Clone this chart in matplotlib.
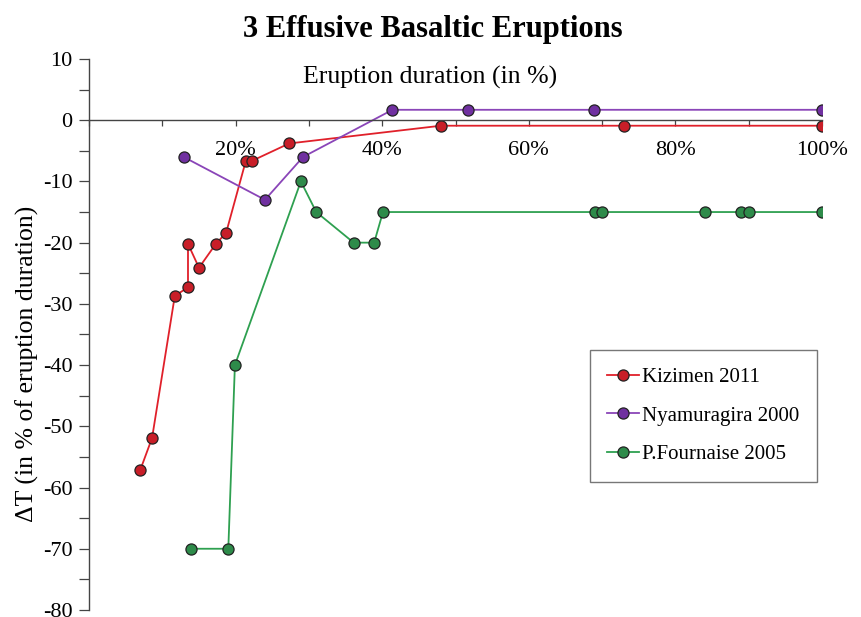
import matplotlib.pyplot as plt
from matplotlib.ticker import MultipleLocator, FuncFormatter

plt.rcParams['font.family'] = ['Liberation Serif', 'DejaVu Serif']
plt.rcParams['axes.unicode_minus'] = False  # plain hyphen like the original

# Kizimen 2011
kiz_x = [7.0, 8.6, 11.7, 13.5, 13.5, 15.0, 17.3, 18.7, 21.4, 22.3, 27.3, 48.0, 73.0, 100.0]
kiz_y = [-57.1, -51.9, -28.7, -27.3, -20.2, -24.1, -20.2, -18.4, -6.6, -6.6, -3.8, -0.9, -0.9, -0.9]

# Nyamuragira 2000
nya_x = [12.9, 24.0, 29.2, 41.4, 51.7, 68.9, 100.0]
nya_y = [-6.0, -13.0, -6.0, 1.7, 1.7, 1.7, 1.7]

# P.Fournaise 2005
pf_x = [13.9, 19.0, 19.9, 28.9, 31.0, 36.1, 38.9, 40.1, 69.0, 70.0, 84.0, 88.9, 90.0, 100.0]
pf_y = [-70, -70, -40, -10, -15, -20, -20, -15, -15, -15, -15, -15, -15, -15]

fig = plt.figure(figsize=(8.62, 6.17), dpi=100)
ax = fig.add_axes([0.1033, 0.0114, 0.8503, 0.893])

mk = dict(marker='o', markersize=8, markeredgecolor='#222222', markeredgewidth=0.9, linewidth=1.3)
ax.plot(kiz_x, kiz_y, color='#E0202A', markerfacecolor='#C81E28', label='Kizimen 2011', **mk)
ax.plot(nya_x, nya_y, color='#8A45B8', markerfacecolor='#7030A0', label='Nyamuragira 2000', **mk)
ax.plot(pf_x, pf_y, color='#2EA050', markerfacecolor='#2E8B4A', label='P.Fournaise 2005', **mk)

ax.set_xlim(0, 100)
ax.set_ylim(-80, 10)

ax.spines['top'].set_visible(False)
ax.spines['right'].set_visible(False)
ax.spines['bottom'].set_position(('data', 0))
for s in ['left', 'bottom']:
    ax.spines[s].set_color('#444444')
    ax.spines[s].set_linewidth(1.0)

ax.xaxis.set_major_locator(MultipleLocator(20))
ax.xaxis.set_minor_locator(MultipleLocator(10))
ax.xaxis.set_major_formatter(FuncFormatter(lambda v, p: '' if v == 0 else '%d%%' % v))
ax.tick_params(axis='x', which='both', direction='out', length=4, width=0.9, color='#444444',
               labelsize=16, pad=11)
ax.yaxis.set_major_locator(MultipleLocator(10))
ax.yaxis.set_minor_locator(MultipleLocator(5))
ax.tick_params(axis='y', which='both', direction='out', length=7, width=0.9, color='#444444',
               labelsize=16, pad=5)

ax.set_ylabel('ΔT (in % of eruption duration)', fontsize=18.5, labelpad=1)
ax.yaxis.set_label_coords(-0.068, 0.446)
ax.text(46.5, 7.0, 'Eruption duration (in %)', fontsize=18.5, ha='center', va='center')
fig.suptitle('3 Effusive Basaltic Eruptions', fontsize=22, fontweight='bold', x=0.502, y=0.975)

leg = ax.legend(loc='upper left', bbox_to_anchor=(0.683, 0.472), fontsize=15, frameon=True,
                fancybox=False, edgecolor='#555555', borderpad=0.85, labelspacing=0.9,
                handlelength=1.5, handletextpad=0.15, borderaxespad=0)
leg.get_frame().set_linewidth(1.0)

fig.savefig('out.png', dpi=100)
